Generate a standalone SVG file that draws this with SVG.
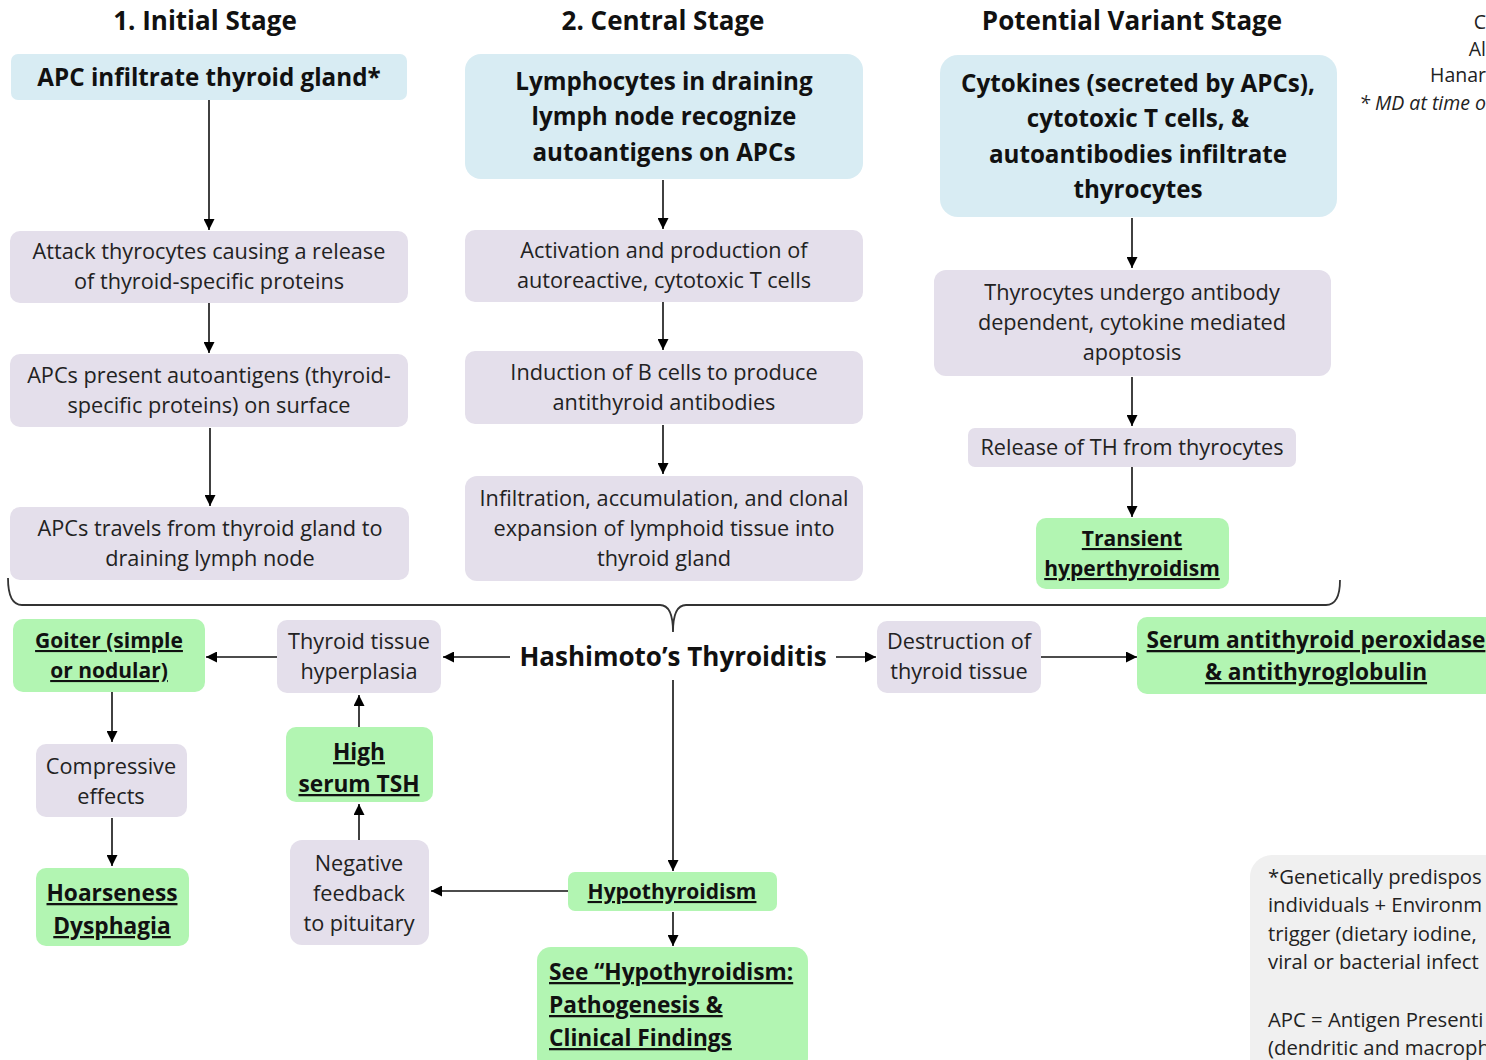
<svg xmlns="http://www.w3.org/2000/svg" width="1486" height="1060" viewBox="0 0 1486 1060">
<defs>
<marker id="ah" viewBox="0 0 10 10" refX="10" refY="5" markerWidth="11" markerHeight="11" markerUnits="userSpaceOnUse" orient="auto">
<path d="M0,0 L10,5 L0,10 z" fill="#000"/>
</marker>
<style>
text{font-family:"Open Sans","Noto Sans",sans-serif;fill:#111;text-anchor:middle}
.h{font-size:26px;font-weight:bold}
.b{font-size:24.2px;font-weight:bold}
.r{font-size:21.7px;fill:#222}
.n{font-size:20.3px;fill:#222;text-anchor:start}
.t{font-size:19.5px;fill:#222;text-anchor:end}
.g{font-size:21px;font-weight:bold;text-decoration:underline}
.g2{font-size:22.7px;font-weight:bold;text-decoration:underline}
.blue{fill:#d8ecf3}
.lav{fill:#e4dfeb}
.grn{fill:#b2f5b2}
.note{fill:#f0f0f0}
.c{stroke:#111;stroke-width:1.6;fill:none;marker-end:url(#ah)}
.br{stroke:#333;stroke-width:1.8;fill:none}
.l{text-anchor:start}
.i{font-style:italic}
</style>
</defs>
<rect width="1486" height="1060" fill="#fff"/>

<g id="headers">
<text class="h" x="205" y="30">1. Initial Stage</text>
<text class="h" x="663" y="30">2. Central Stage</text>
<text class="h" x="1132" y="30">Potential Variant Stage</text>
<text class="t" x="1486" y="29">C</text>
<text class="t" x="1486" y="56">Al</text>
<text class="t" x="1486" y="82">Hanar</text>
<text class="t i" x="1486" y="110">* MD at time o</text>
</g>

<g id="connectors">
<line class="c" x1="209" y1="100" x2="209" y2="230"/>
<line class="c" x1="209" y1="303" x2="209" y2="353"/>
<line class="c" x1="210" y1="428" x2="210" y2="506"/>
<line class="c" x1="663" y1="180" x2="663" y2="229"/>
<line class="c" x1="663" y1="302" x2="663" y2="350"/>
<line class="c" x1="663" y1="425" x2="663" y2="474"/>
<line class="c" x1="1132" y1="218" x2="1132" y2="268"/>
<line class="c" x1="1132" y1="377" x2="1132" y2="426"/>
<line class="c" x1="1132" y1="467" x2="1132" y2="517"/>
<path class="br" d="M8,578 Q8,605 22,605 H660 Q673,605 673,632 Q673,605 686,605 H1326 Q1340,605 1340,580"/>
<line class="c" x1="510" y1="657" x2="443" y2="657"/>
<line class="c" x1="277" y1="657" x2="206" y2="657"/>
<line class="c" x1="836" y1="657" x2="876" y2="657"/>
<line class="c" x1="1041" y1="657" x2="1137" y2="657"/>
<line class="c" x1="673" y1="680" x2="673" y2="871"/>
<line class="c" x1="112" y1="692" x2="112" y2="742"/>
<line class="c" x1="112" y1="818" x2="112" y2="866"/>
<line class="c" x1="359" y1="727" x2="359" y2="695"/>
<line class="c" x1="359" y1="840" x2="359" y2="804"/>
<line class="c" x1="568" y1="891" x2="431" y2="891"/>
<line class="c" x1="673" y1="912" x2="673" y2="946"/>
</g>

<g id="n-apc-infiltrate">
<rect class="blue" x="11" y="54" width="396" height="46" rx="7"/>
<text class="b" x="209" y="86">APC infiltrate thyroid gland*</text>
</g>
<g id="n-attack">
<rect class="lav" x="10" y="231" width="398" height="72" rx="10"/>
<text class="r" x="209" y="259">Attack thyrocytes causing a release</text>
<text class="r" x="209" y="289">of thyroid-specific proteins</text>
</g>
<g id="n-present">
<rect class="lav" x="10" y="354" width="398" height="73" rx="10"/>
<text class="r" x="209" y="383">APCs present autoantigens (thyroid-</text>
<text class="r" x="209" y="413">specific proteins) on surface</text>
</g>
<g id="n-travels">
<rect class="lav" x="10" y="507" width="399" height="73" rx="10"/>
<text class="r" x="210" y="536">APCs travels from thyroid gland to</text>
<text class="r" x="210" y="566">draining lymph node</text>
</g>

<g id="n-lymphocytes">
<rect class="blue" x="465" y="54" width="398" height="125" rx="16"/>
<text class="b" x="664" y="90">Lymphocytes in draining</text>
<text class="b" x="664" y="125">lymph node recognize</text>
<text class="b" x="664" y="161">autoantigens on APCs</text>
</g>
<g id="n-activation">
<rect class="lav" x="465" y="230" width="398" height="72" rx="10"/>
<text class="r" x="664" y="258">Activation and production of</text>
<text class="r" x="664" y="288">autoreactive, cytotoxic T cells</text>
</g>
<g id="n-induction">
<rect class="lav" x="465" y="351" width="398" height="73" rx="10"/>
<text class="r" x="664" y="380">Induction of B cells to produce</text>
<text class="r" x="664" y="410">antithyroid antibodies</text>
</g>
<g id="n-infiltration">
<rect class="lav" x="465" y="476" width="398" height="105" rx="12"/>
<text class="r" x="664" y="506">Infiltration, accumulation, and clonal</text>
<text class="r" x="664" y="536">expansion of lymphoid tissue into</text>
<text class="r" x="664" y="566">thyroid gland</text>
</g>

<g id="n-cytokines">
<rect class="blue" x="940" y="55" width="397" height="162" rx="18"/>
<text class="b" x="1138" y="92">Cytokines (secreted by APCs),</text>
<text class="b" x="1138" y="127">cytotoxic T cells, &amp;</text>
<text class="b" x="1138" y="163">autoantibodies infiltrate</text>
<text class="b" x="1138" y="198">thyrocytes</text>
</g>
<g id="n-apoptosis">
<rect class="lav" x="934" y="270" width="397" height="106" rx="12"/>
<text class="r" x="1132" y="300">Thyrocytes undergo antibody</text>
<text class="r" x="1132" y="330">dependent, cytokine mediated</text>
<text class="r" x="1132" y="360">apoptosis</text>
</g>
<g id="n-release">
<rect class="lav" x="968" y="428" width="328" height="39" rx="7"/>
<text class="r" x="1132" y="455">Release of TH from thyrocytes</text>
</g>
<g id="n-transient">
<rect class="grn" x="1036" y="518" width="193" height="71" rx="10"/>
<text class="g" x="1132" y="546">Transient</text>
<text class="g" x="1132" y="576">hyperthyroidism</text>
</g>

<g id="n-hashimoto">
<text style="font-size:26px;font-weight:bold" x="673" y="666">Hashimoto’s Thyroiditis</text>
</g>
<g id="n-hyperplasia">
<rect class="lav" x="277" y="620" width="164" height="73" rx="10"/>
<text class="r" x="359" y="649">Thyroid tissue</text>
<text class="r" x="359" y="679">hyperplasia</text>
</g>
<g id="n-goiter">
<rect class="grn" x="13" y="619" width="192" height="73" rx="10"/>
<text class="g" x="109" y="648">Goiter (simple</text>
<text class="g" x="109" y="678">or nodular)</text>
</g>
<g id="n-compressive">
<rect class="lav" x="36" y="744" width="151" height="73" rx="10"/>
<text class="r" x="111" y="774">Compressive</text>
<text class="r" x="111" y="804">effects</text>
</g>
<g id="n-hoarseness">
<rect class="grn" x="36" y="868" width="153" height="78" rx="10"/>
<text class="g2" x="112" y="901">Hoarseness</text>
<text class="g2" x="112" y="934">Dysphagia</text>
</g>
<g id="n-tsh">
<rect class="grn" x="286" y="727" width="147" height="75" rx="10"/>
<text class="g2" x="359" y="760">High</text>
<text class="g2" x="359" y="792">serum TSH</text>
</g>
<g id="n-negative">
<rect class="lav" x="290" y="840" width="139" height="105" rx="12"/>
<text class="r" x="359" y="871">Negative</text>
<text class="r" x="359" y="901">feedback</text>
<text class="r" x="359" y="931">to pituitary</text>
</g>
<g id="n-hypothyroidism">
<rect class="grn" x="568" y="872" width="209" height="39" rx="7"/>
<text class="g" x="672" y="899">Hypothyroidism</text>
</g>
<g id="n-see">
<rect class="grn" x="537" y="947" width="271" height="125" rx="14"/>
<text class="g2 l" x="549" y="980">See “Hypothyroidism:</text>
<text class="g2 l" x="549" y="1013">Pathogenesis &amp;</text>
<text class="g2 l" x="549" y="1046">Clinical Findings</text>
</g>
<g id="n-destruction">
<rect class="lav" x="877" y="621" width="164" height="72" rx="10"/>
<text class="r" x="959" y="649">Destruction of</text>
<text class="r" x="959" y="679">thyroid tissue</text>
</g>
<g id="n-serum">
<rect class="grn" x="1137" y="617" width="370" height="77" rx="10"/>
<text class="g2" x="1316" y="648">Serum antithyroid peroxidase</text>
<text class="g2" x="1316" y="680">&amp; antithyroglobulin</text>
</g>
<g id="n-note">
<rect class="note" x="1250" y="855" width="300" height="230" rx="22"/>
<text class="n" x="1268" y="884">*Genetically predispos</text>
<text class="n" x="1268" y="912">individuals + Environm</text>
<text class="n" x="1268" y="941">trigger (dietary iodine,</text>
<text class="n" x="1268" y="969">viral or bacterial infect</text>
<text class="n" x="1268" y="1027">APC = Antigen Presenti</text>
<text class="n" x="1268" y="1055">(dendritic and macroph</text>
</g>
</svg>
